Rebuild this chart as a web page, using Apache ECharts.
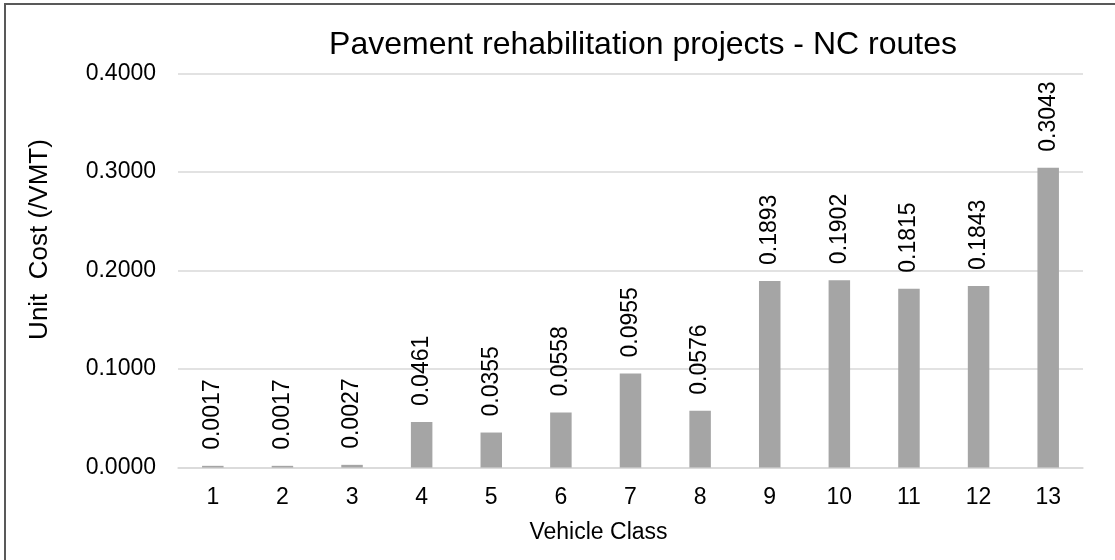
<!DOCTYPE html>
<html>
<head>
<meta charset="utf-8">
<script src="https://cdn.jsdelivr.net/npm/echarts@6/dist/echarts.min.js"></script>
<style>
  html, body { margin: 0; padding: 0; background: #fff; }
  #frame { position: absolute; left: 4px; top: 3px; width: 1200px; height: 700px; border: 2px solid #595959; box-sizing: border-box; }
  #chart { position: absolute; left: 0; top: 0; width: 1115px; height: 560px; }
</style>
</head>
<body>
<div id="frame"></div>
<div id="chart"></div>
<script>
// vehicle classes and unit cost per VMT
const classes = ["1","2","3","4","5","6","7","8","9","10","11","12","13"];
const unitCost = [0.0017, 0.0017, 0.0027, 0.0461, 0.0355, 0.0558, 0.0955, 0.0576, 0.1893, 0.1902, 0.1815, 0.1843, 0.3043];

var myChart = echarts.init(document.getElementById('chart'));
const font = 'Liberation Sans, Arial, sans-serif';
myChart.setOption({
    animation: false,
    title: {
        text: 'Pavement rehabilitation projects - NC routes',
        left: 638, top: 24, textAlign: 'center',
        textStyle: { fontFamily: font, fontSize: 32, fontWeight: 'normal', color: '#000' }
    },
    grid: { left: 178, right: 32, top: 73.5, bottom: 92.5, containLabel: false },
    xAxis: {
        type: 'category',
        data: classes,
        name: 'Vehicle Class',
        nameLocation: 'middle',
        nameGap: 54,
        nameTextStyle: { fontFamily: font, fontSize: 23, color: '#000', padding: [0, 64, 0, 0] },
        axisLine: { lineStyle: { color: '#d9d9d9', width: 1.5 } },
        axisTick: { show: false },
        axisLabel: { fontFamily: font, fontSize: 23, color: '#000', margin: 19 }
    },
    yAxis: {
        type: 'value',
        min: 0, max: 0.4, interval: 0.1,
        name: 'Unit  Cost (/VMT)',
        nameLocation: 'middle',
        nameGap: 125,
        nameTextStyle: { fontFamily: font, fontSize: 26, color: '#000', padding: [0, 0, 0, 62] },
        axisLine: { show: false },
        axisTick: { show: false },
        splitLine: { lineStyle: { color: '#d9d9d9', width: 1.5 } },
        axisLabel: { fontFamily: font, fontSize: 23, color: '#000', margin: 22,
            formatter: function (v) { return v.toFixed(4); } }
    },
    series: [{
        type: 'bar',
        data: unitCost,
        barWidth: 21.5,
        itemStyle: { color: '#a5a5a5' },
        label: {
            show: true,
            position: 'top',
            rotate: 90,
            align: 'left',
            verticalAlign: 'middle',
            distance: 16,
            fontFamily: font, fontSize: 23, color: '#000',
            formatter: function (p) { return p.value.toFixed(4); }
        }
    }]
});
</script>
</body>
</html>
